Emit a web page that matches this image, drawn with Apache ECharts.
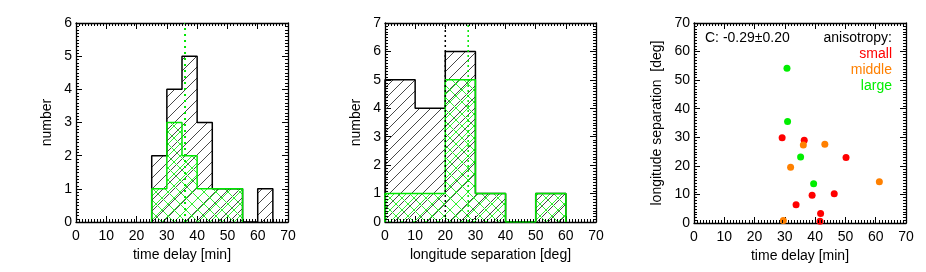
<!DOCTYPE html>
<html><head><meta charset="utf-8">
<script src="https://cdn.jsdelivr.net/npm/echarts@6/dist/echarts.min.js"></script>
<style>html,body{margin:0;padding:0;background:#fff}#c{width:926px;height:272px}</style>
</head><body><div id="c"></div>
<script>
// ---- data ----
const delayBinStart = 25, delayBinWidth = 5;
const delayCountsAll = [2, 4, 5, 3, 1, 1, 0, 1];
const delayCountsSub = [1, 3, 2, 1, 1, 1];
const delayMedianSub = 36;

const lonBinStart = 0, lonBinWidth = 10;
const lonCountsAll = [5, 4, 6, 1, 0, 1];
const lonCountsSub = [1, 1, 5, 1, 0, 1];
const lonMedianAll = 20;
const lonMedianSub = 27.6;

const smallPts = [[29.1, 29.8], [36.4, 29.0], [50.2, 22.9], [39.0, 9.7], [46.3, 10.2], [33.7, 6.4], [41.8, 3.3], [41.6, 0.6]];
const middlePts = [[36.1, 27.3], [43.2, 27.6], [31.9, 19.5], [61.2, 14.4], [29.5, 0.9]];
const largePts = [[30.7, 54.2], [30.9, 35.5], [35.2, 23.1], [39.5, 13.7]];

const xTicks = [0, 10, 20, 30, 40, 50, 60, 70];
const corrText = 'C: -0.29\u00b10.20';

// ---- helpers ----
function stepPoints(start, w, counts) {
  const pts = [[start, 0]];
  counts.forEach((c, i) => { pts.push([start + i * w, c], [start + (i + 1) * w, c]); });
  pts.push([start + counts.length * w, 0]);
  return pts;
}
function hatch(s, color, dirs, lw) {
  const c = document.createElement('canvas');
  c.width = c.height = s;
  const g = c.getContext('2d');
  g.strokeStyle = color; g.lineWidth = lw;
  g.beginPath();
  if (dirs.includes('/')) {
    g.moveTo(0, s); g.lineTo(s, 0);
    g.moveTo(-1, 1); g.lineTo(1, -1);
    g.moveTo(s - 1, s + 1); g.lineTo(s + 1, s - 1);
  }
  if (dirs.includes('\\')) {
    g.moveTo(0, 0); g.lineTo(s, s);
    g.moveTo(-1, s - 1); g.lineTo(1, s + 1);
    g.moveTo(s - 1, -1); g.lineTo(s + 1, 1);
  }
  g.stroke();
  return { image: c, repeat: 'repeat' };
}
const GREEN = '#00e600';
const blackHatch = hatch(11, '#333', '/', 0.9);
const greenHatch = hatch(12, '#33ee33', '/\\', 1);

const FONT = 'Liberation Sans, Arial, Helvetica, sans-serif';
const grids = [
  { left: 76, top: 23, width: 212, height: 199 },
  { left: 385, top: 23, width: 211, height: 199 },
  { left: 694, top: 23, width: 212, height: 200 }
];
const xNames = ['time delay [min]', 'longitude separation [deg]', 'time delay [min]'];
const yNames = ['number', 'number', 'longitude separation  [deg]'];
const yMax = [6, 7, 70];
const yInt = [1, 1, 10];
const yGap = [22, 22, 30];

function baseAxis(i, max, interval, pos) {
  return {
    gridIndex: i, type: 'value', min: 0, max: max, interval: interval, position: pos,
    axisLine: { show: true, onZero: false, lineStyle: { color: '#000', width: 1.3 } },
    axisTick: { show: true, inside: true, length: 6, lineStyle: { color: '#000', width: 1 } },
    axisLabel: { show: false },
    splitLine: { show: false }
  };
}

const xAxis = [], yAxis = [];
grids.forEach((g, i) => {
  const xb = baseAxis(i, 70, 10, 'bottom');
  xb.name = xNames[i]; xb.nameLocation = 'middle'; xb.nameGap = 23;
  xb.nameTextStyle = { fontFamily: FONT, fontSize: 14, color: '#000' };
  xb.axisLabel = { show: true, margin: 7, fontFamily: FONT, fontSize: 14, color: '#000',
    formatter: v => xTicks.includes(v) ? String(v) : '' };
  xAxis.push(xb, baseAxis(i, 70, 10, 'top'));
  const yl = baseAxis(i, yMax[i], yInt[i], 'left');
  yl.name = yNames[i]; yl.nameLocation = 'middle'; yl.nameGap = yGap[i];
  yl.nameTextStyle = { fontFamily: FONT, fontSize: 14, color: '#000' };
  yl.axisLabel = { show: true, margin: 4, fontFamily: FONT, fontSize: 14, color: '#000' };
  yAxis.push(yl, baseAxis(i, yMax[i], yInt[i], 'right'));
});

// minor ticks (10 per major interval) on all four sides, drawn through the axes' scales
function minorTickSeries(g) {
  const ymax = yMax[g], ystep = yInt[g] / 10;
  const items = [];
  for (let k = 1; k < 70; k++) if (k % 10) items.push([k, 0, 'b'], [k, ymax, 't']);
  const ny = Math.round(ymax / ystep);
  for (let k = 1; k < ny; k++) if (k % 10) items.push([0, k * ystep, 'l'], [70, k * ystep, 'r']);
  return {
    type: 'custom', xAxisIndex: g * 2, yAxisIndex: g * 2, data: items,
    silent: true, animation: false, clip: false, z: 10,
    encode: { x: 0, y: 1 },
    renderItem: function (params, api) {
      const p = api.coord([api.value(0), api.value(1)]);
      const side = items[params.dataIndex][2];
      const L = 3;
      let x1 = Math.round(p[0]) + 0.5, y1 = Math.round(p[1]) + 0.5, x2 = x1, y2 = y1;
      if (side === 'b') { y1 = p[1]; y2 = p[1] - L; }
      else if (side === 't') { y1 = p[1]; y2 = p[1] + L; }
      else if (side === 'l') { x1 = p[0]; x2 = p[0] + L; }
      else { x1 = p[0]; x2 = p[0] - L; }
      return { type: 'line', shape: { x1: x1, y1: y1, x2: x2, y2: y2 },
        style: { stroke: '#000', lineWidth: 1 } };
    }
  };
}

function histSeries(g, pts, color, pattern, lw) {
  return {
    type: 'line', xAxisIndex: g * 2, yAxisIndex: g * 2,
    data: pts, symbol: 'none', silent: true, animation: false,
    lineStyle: { color: color, width: lw },
    areaStyle: { color: pattern, opacity: 1, origin: 'start' }
  };
}
function vline(g, x, top, color, dash, lw) {
  return {
    type: 'line', xAxisIndex: g * 2, yAxisIndex: g * 2,
    data: [[x, 0], [x, top]], symbol: 'none', silent: true, animation: false,
    lineStyle: { color: color, width: lw, type: dash }
  };
}
function scat(pts, color) {
  return {
    type: 'scatter', xAxisIndex: 4, yAxisIndex: 4, data: pts,
    symbolSize: 7, itemStyle: { color: color, opacity: 1 }, animation: false
  };
}

const series = [
  histSeries(0, stepPoints(delayBinStart, delayBinWidth, delayCountsAll), '#000', blackHatch, 1.5),
  histSeries(0, stepPoints(delayBinStart, delayBinWidth, delayCountsSub), GREEN, greenHatch, 1.5),
  vline(0, delayMedianSub, 6, GREEN, [2, 4], 2),
  histSeries(1, stepPoints(lonBinStart, lonBinWidth, lonCountsAll), '#000', blackHatch, 1.5),
  histSeries(1, stepPoints(lonBinStart, lonBinWidth, lonCountsSub), GREEN, greenHatch, 1.5),
  vline(1, lonMedianAll, 7, '#000', [2, 3], 1.5),
  vline(1, lonMedianSub, 7, GREEN, [2, 3], 1.5),
  scat(smallPts, '#ff0000'),
  scat(middlePts, '#ff8000'),
  scat(largePts, '#00ee00'),
  minorTickSeries(0), minorTickSeries(1), minorTickSeries(2)
];

const txt = (x, y, s, color, align) => ({
  type: 'text', x: x, y: y, silent: true,
  style: { text: s, fill: color, font: '14px ' + FONT, textAlign: align, textVerticalAlign: 'middle' }
});

const chart = echarts.init(document.getElementById('c'), null, { renderer: 'canvas' });
chart.setOption({
  animation: false,
  backgroundColor: '#fff',
  grid: grids,
  xAxis: xAxis,
  yAxis: yAxis,
  series: series,
  graphic: [
    txt(705, 38, corrText, '#000', 'left'),
    txt(892, 38, 'anisotropy:', '#000', 'right'),
    txt(892, 54, 'small', '#ff0000', 'right'),
    txt(892, 70, 'middle', '#ff8000', 'right'),
    txt(892, 86, 'large', '#00ee00', 'right')
  ]
});
</script></body></html>
